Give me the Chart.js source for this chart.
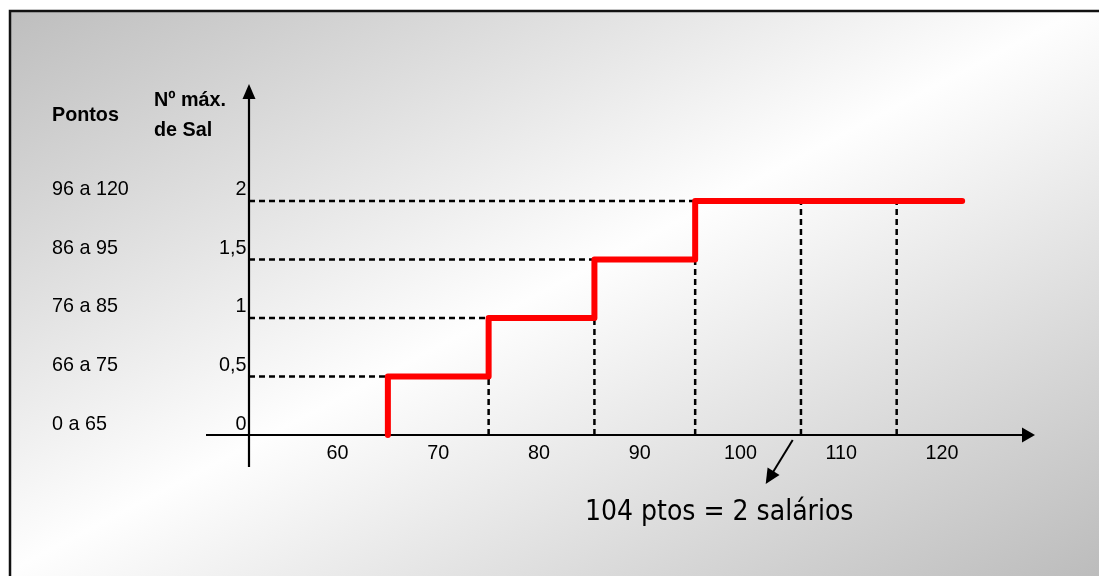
<!DOCTYPE html>
<html>
<head>
<meta charset="utf-8">
<script src="https://cdn.jsdelivr.net/npm/chart.js@4.4.0/dist/chart.umd.min.js"></script>
<style>
  html, body { margin: 0; padding: 0; background: #fff; }
  #wrap { width: 1099px; height: 576px; position: relative; }
</style>
</head>
<body>
<div id="wrap"><canvas id="salario-step"></canvas></div>
<script>
// tick labels on the pontos axis
const pontosTicks = [60, 70, 80, 90, 100, 110, 120];
// left column: point ranges, and the salary level for each
const faixasPontos = ["0 a 65", "66 a 75", "76 a 85", "86 a 95", "96 a 120"];
const salarioLevels = [0, 0.5, 1, 1.5, 2];
const salarioLabels = ["0", "0,5", "1", "1,5", "2"];
// red step line (pontos, nº de salários)
const stepPontos = [65, 65, 75, 85.5, 95.5, 122];
const stepSalarios = [0, 0.5, 1, 1.5, 2, 2];
// dashed verticals down to the axis
const guidePontos = [75, 85.5, 95.5, 106, 115.5];
const guideSalarios = [0.5, 1, 1.5, 2, 2];
const annotText = "104 ptos = 2 salários";

const X_MIN = 51.216, X_MAX = 129.13;
const Y_MIN = 0, Y_MAX = 2.991;
const FONT = '"Liberation Sans", Arial, sans-serif';

const datasets = [{
  label: "Nº máx. de Sal",
  data: stepPontos.map((x, i) => ({ x: x, y: stepSalarios[i] })),
  stepped: "before",
  borderColor: "#ff0000",
  borderWidth: 6,
  borderCapStyle: "round",
  borderJoinStyle: "round",
  pointRadius: 0,
  fill: false,
  clip: false
}];

// horizontal dashed guides from the y axis to where each level starts
salarioLevels.slice(1).forEach((lvl, i) => {
  datasets.push({
    data: [{ x: X_MIN, y: lvl }, { x: stepPontos[i + 1], y: lvl }],
    borderColor: "#000", borderWidth: 2.5, borderDash: [6, 4],
    pointRadius: 0, fill: false, clip: false
  });
});
guidePontos.forEach((x, i) => {
  datasets.push({
    data: [{ x: x, y: 0 }, { x: x, y: guideSalarios[i] }],
    borderColor: "#000", borderWidth: 2.5, borderDash: [6, 4],
    pointRadius: 0, fill: false, clip: false
  });
});

// text a bit narrower than it is tall, like the original
function squeezedText(ctx, text, x, y, align) {
  const sx = 0.94;
  ctx.save();
  ctx.translate(x, y);
  ctx.scale(sx, 1);
  ctx.textAlign = align;
  ctx.fillText(text, 0, 0);
  ctx.restore();
}

const drawing = {
  id: "drawing",
  beforeDraw(chart) {
    const ctx = chart.ctx, W = chart.width, H = chart.height;
    ctx.save();
    ctx.fillStyle = "#fff";
    ctx.fillRect(0, 0, W, H);
    const cx = W / 2, cy = H / 2;
    const len = Math.hypot(576, 1099);
    const ux = 576 / len, uy = 1099 / len, k = 510;
    const g = ctx.createLinearGradient(cx - ux * k, cy - uy * k, cx + ux * k, cy + uy * k);
    g.addColorStop(0, "#bcbcbc");
    g.addColorStop(0.5, "#fefefe");
    g.addColorStop(1, "#bcbcbc");
    ctx.fillStyle = g;
    ctx.fillRect(10, 11, W - 10, H - 11);
    ctx.strokeStyle = "#111";
    ctx.lineWidth = 2.5;
    ctx.beginPath();
    ctx.moveTo(10, H + 2);
    ctx.lineTo(10, 11);
    ctx.lineTo(W + 2, 11);
    ctx.stroke();
    ctx.restore();
  },
  beforeDatasetsDraw(chart) {
    const ctx = chart.ctx, xs = chart.scales.x, ys = chart.scales.y;
    const ox = xs.getPixelForValue(X_MIN), oy = ys.getPixelForValue(0);
    const top = ys.getPixelForValue(Y_MAX), right = xs.getPixelForValue(X_MAX);
    ctx.save();
    ctx.strokeStyle = "#000";
    ctx.fillStyle = "#000";
    ctx.lineWidth = 2.2;
    ctx.beginPath();
    ctx.moveTo(ox, oy + 32);
    ctx.lineTo(ox, top + 10);
    ctx.moveTo(ox - 43, oy);
    ctx.lineTo(right - 10, oy);
    ctx.stroke();
    ctx.beginPath();
    ctx.moveTo(ox, top - 1);
    ctx.lineTo(ox - 6.5, top + 14);
    ctx.lineTo(ox + 6.5, top + 14);
    ctx.closePath();
    ctx.fill();
    ctx.beginPath();
    ctx.moveTo(right + 1, oy);
    ctx.lineTo(right - 12, oy - 7.5);
    ctx.lineTo(right - 12, oy + 7.5);
    ctx.closePath();
    ctx.fill();
    ctx.restore();
  },
  afterDraw(chart) {
    const ctx = chart.ctx, xs = chart.scales.x, ys = chart.scales.y;
    const ox = xs.getPixelForValue(X_MIN), oy = ys.getPixelForValue(0);
    ctx.save();
    ctx.fillStyle = "#000";
    ctx.textBaseline = "alphabetic";
    ctx.font = "21px " + FONT;
    salarioLevels.forEach((lvl, i) => {
      const y = ys.getPixelForValue(lvl) - 5.5;
      squeezedText(ctx, salarioLabels[i], ox - 2.5, y, "right");
      squeezedText(ctx, faixasPontos[i], 52, y, "left");
    });
    pontosTicks.forEach(t => {
      squeezedText(ctx, String(t), xs.getPixelForValue(t), oy + 24, "center");
    });
    ctx.font = "bold 21px " + FONT;
    squeezedText(ctx, "Pontos", 52, 121, "left");
    squeezedText(ctx, "Nº máx.", 154, 106, "left");
    squeezedText(ctx, "de Sal", 154, 136, "left");

    // annotation arrow + text
    const ax = 792.7, ay = oy + 5, tx = 765.7, ty = oy + 49;
    const ang = Math.atan2(ty - ay, tx - ax);
    ctx.lineWidth = 2;
    ctx.beginPath();
    ctx.moveTo(ax, ay);
    ctx.lineTo(tx - Math.cos(ang) * 10, ty - Math.sin(ang) * 10);
    ctx.stroke();
    ctx.beginPath();
    ctx.moveTo(tx, ty);
    ctx.lineTo(tx - Math.cos(ang) * 15 - Math.sin(ang) * 7, ty - Math.sin(ang) * 15 + Math.cos(ang) * 7);
    ctx.lineTo(tx - Math.cos(ang) * 15 + Math.sin(ang) * 7, ty - Math.sin(ang) * 15 - Math.cos(ang) * 7);
    ctx.closePath();
    ctx.fill();
    ctx.font = '28px "DejaVu Sans Condensed", "DejaVu Sans", sans-serif';
    ctx.textAlign = "left";
    ctx.fillText(annotText, 585, 520);
    ctx.restore();
  }
};

new Chart(document.getElementById("salario-step").getContext("2d"), {
  type: "line",
  data: { datasets: datasets },
  options: {
    responsive: true,
    maintainAspectRatio: false,
    animation: false,
    events: [],
    layout: { padding: { left: 249, right: 65, top: 85, bottom: 141 } },
    plugins: { legend: { display: false }, tooltip: { enabled: false } },
    elements: { line: { tension: 0 } },
    scales: {
      x: { type: "linear", min: X_MIN, max: X_MAX, display: false },
      y: { type: "linear", min: Y_MIN, max: Y_MAX, display: false }
    }
  },
  plugins: [drawing]
});
</script>
</body>
</html>
